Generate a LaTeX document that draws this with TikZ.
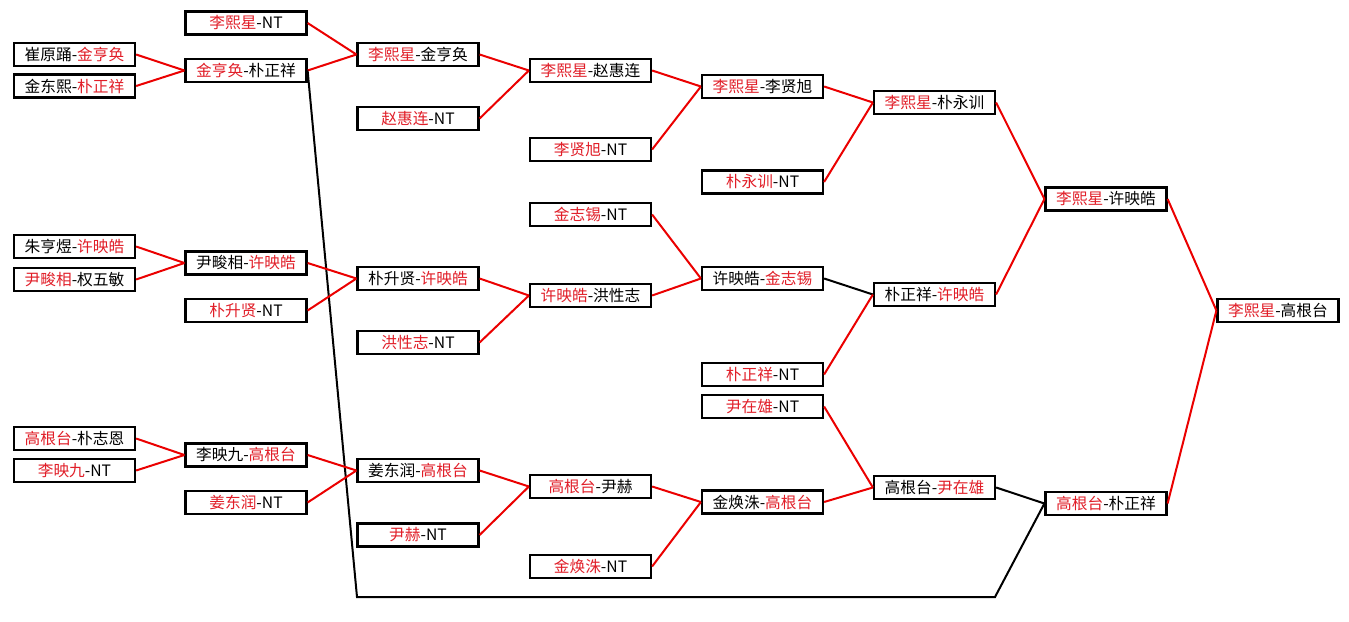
\documentclass[tikz,border=0pt]{standalone}
\usepackage{fontspec}
\setmainfont{Noto Sans CJK SC}
\definecolor{tred}{RGB}{225,30,40}
\definecolor{lred}{RGB}{235,0,0}
\newcommand\rd[1]{\textcolor{tred}{#1}}
\begin{document}
\begin{tikzpicture}[x=1pt,y=-1pt,
  box/.style={draw=black,line width=2.2pt,minimum width=121pt,minimum height=23pt,inner sep=0pt,fill=white,font=\fontsize{15.7}{17}\selectfont},
  win/.style={draw=lred,line width=2pt},
  lose/.style={draw=black,line width=2pt}]
\useasboundingbox[fill=white] (0,0) rectangle (1349,621);
% column 1
\node[box] (a1) at (74.5,54.5) {崔原踊-\rd{金亨奂}};
\node[box] (a2) at (74.5,86) {金东熙-\rd{朴正祥}};
\node[box] (a3) at (74.5,246.5) {朱亨煜-\rd{许映皓}};
\node[box] (a4) at (74.5,279.5) {\rd{尹畯相}-权五敏};
\node[box] (a5) at (74.5,438.5) {\rd{高根台}-朴志恩};
\node[box] (a6) at (74.5,470.5) {\rd{李映九}-NT};
% column 2
\node[box] (b1) at (246,23) {\rd{李熙星}-NT};
\node[box] (b2) at (246,70.5) {\rd{金亨奂}-朴正祥};
\node[box] (b3) at (246,263) {尹畯相-\rd{许映皓}};
\node[box] (b4) at (246,310.5) {\rd{朴升贤}-NT};
\node[box] (b5) at (246,455) {李映九-\rd{高根台}};
\node[box] (b6) at (246,502.5) {\rd{姜东润}-NT};
% column 3
\node[box] (c1) at (418,54.5) {\rd{李熙星}-金亨奂};
\node[box] (c2) at (418,118.5) {\rd{赵惠连}-NT};
\node[box] (c3) at (418,278.5) {朴升贤-\rd{许映皓}};
\node[box] (c4) at (418,342.5) {\rd{洪性志}-NT};
\node[box] (c5) at (418,470.5) {姜东润-\rd{高根台}};
\node[box] (c6) at (418,535) {\rd{尹赫}-NT};
% column 4
\node[box] (d1) at (590.5,70.5) {\rd{李熙星}-赵惠连};
\node[box] (d2) at (590.5,149.5) {\rd{李贤旭}-NT};
\node[box] (d3) at (590.5,214.5) {\rd{金志锡}-NT};
\node[box] (d4) at (590.5,295.5) {\rd{许映皓}-洪性志};
\node[box] (d5) at (590.5,486.5) {\rd{高根台}-尹赫};
\node[box] (d6) at (590.5,566.5) {\rd{金焕洙}-NT};
% column 5
\node[box] (e1) at (762.5,86.5) {\rd{李熙星}-李贤旭};
\node[box] (e2) at (762.5,182) {\rd{朴永训}-NT};
\node[box] (e3) at (762.5,278.5) {许映皓-\rd{金志锡}};
\node[box] (e4) at (762.5,374.5) {\rd{朴正祥}-NT};
\node[box] (e5) at (762.5,406.5) {\rd{尹在雄}-NT};
\node[box] (e6) at (762.5,502) {金焕洙-\rd{高根台}};
% column 6
\node[box] (f1) at (934.5,102.5) {\rd{李熙星}-朴永训};
\node[box] (f2) at (934.5,294.5) {朴正祥-\rd{许映皓}};
\node[box] (f3) at (934.5,487.5) {高根台-\rd{尹在雄}};
% column 7
\node[box] (g1) at (1106,199) {\rd{李熙星}-许映皓};
\node[box] (g2) at (1106,503.5) {\rd{高根台}-朴正祥};
% column 8
\node[box] (h) at (1278,310.5) {\rd{李熙星}-高根台};
% bends of the long connector
\coordinate (k1) at (357,597);
\coordinate (k2) at (995,597);
% connectors
\draw[win] (a1.east) -- (b2.west);
\draw[win] (a2.east) -- (b2.west);
\draw[win] (a3.east) -- (b3.west);
\draw[win] (a4.east) -- (b3.west);
\draw[win] (a5.east) -- (b5.west);
\draw[win] (a6.east) -- (b5.west);
\draw[win] (b1.east) -- (c1.west);
\draw[win] (b2.east) -- (c1.west);
\draw[lose] (b2.east) -- (k1) -- (k2) -- (g2.west);
\draw[win] (b3.east) -- (c3.west);
\draw[win] (b4.east) -- (c3.west);
\draw[win] (b5.east) -- (c5.west);
\draw[win] (b6.east) -- (c5.west);
\draw[win] (c1.east) -- (d1.west);
\draw[win] (c2.east) -- (d1.west);
\draw[win] (c3.east) -- (d4.west);
\draw[win] (c4.east) -- (d4.west);
\draw[win] (c5.east) -- (d5.west);
\draw[win] (c6.east) -- (d5.west);
\draw[win] (d1.east) -- (e1.west);
\draw[win] (d2.east) -- (e1.west);
\draw[win] (d3.east) -- (e3.west);
\draw[win] (d4.east) -- (e3.west);
\draw[win] (d5.east) -- (e6.west);
\draw[win] (d6.east) -- (e6.west);
\draw[win] (e1.east) -- (f1.west);
\draw[win] (e2.east) -- (f1.west);
\draw[lose] (e3.east) -- (f2.west);
\draw[win] (e4.east) -- (f2.west);
\draw[win] (e5.east) -- (f3.west);
\draw[win] (e6.east) -- (f3.west);
\draw[win] (f1.east) -- (g1.west);
\draw[win] (f2.east) -- (g1.west);
\draw[lose] (f3.east) -- (g2.west);
\draw[win] (g1.east) -- (h.west);
\draw[win] (g2.east) -- (h.west);
\end{tikzpicture}
\end{document}
